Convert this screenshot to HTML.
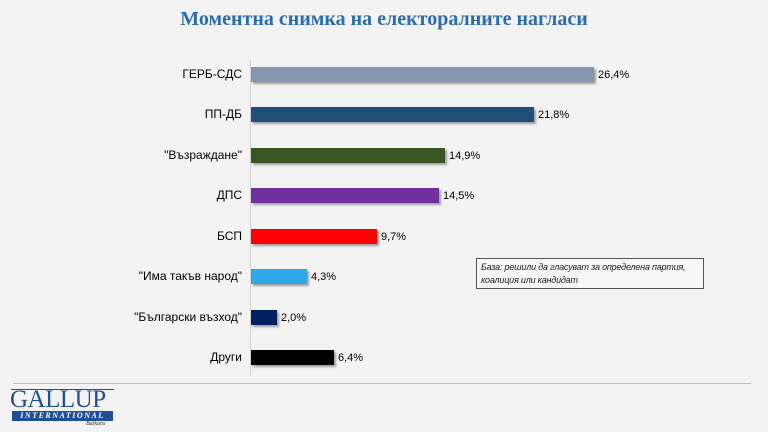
<!DOCTYPE html>
<html><head><meta charset="utf-8"><style>
body{margin:0;width:768px;height:432px;background:#f3f3f3;position:relative;overflow:hidden;font-family:"Liberation Sans","DejaVu Sans",sans-serif}
.t{position:absolute;left:0;width:768px;top:8px;text-align:center;font-family:"Liberation Serif",serif;font-weight:bold;font-size:20px;color:#2a6cb0}
.l{position:absolute;right:526px;font-size:12px;color:#000;line-height:14px}
.b{position:absolute;left:251px;height:15px;box-shadow:2px 2px 2px rgba(0,0,0,0.35)}
.v{position:absolute;font-size:11px;color:#000;line-height:14px}
</style></head><body>
<div class="t">Моментна снимка на електоралните нагласи</div>
<div style="position:absolute;left:250px;top:60px;width:1px;height:316px;background:#d0d0d0"></div>
<div style="position:absolute;left:13px;top:383px;width:738px;height:1px;background:#bdbdbd"></div>

<div class="l" style="top:67px">ГЕРБ-СДС</div><div class="b" style="top:67px;width:343px;background:#8497b0"></div><div class="v" style="top:68px;left:598px">26,4%</div>
<div class="l" style="top:107px">ПП-ДБ</div><div class="b" style="top:107px;width:283px;background:#1f4e79"></div><div class="v" style="top:108px;left:538px">21,8%</div>
<div class="l" style="top:148px">"Възраждане"</div><div class="b" style="top:148px;width:194px;background:#375623"></div><div class="v" style="top:149px;left:449px">14,9%</div>
<div class="l" style="top:188px">ДПС</div><div class="b" style="top:188px;width:188px;background:#7030a0"></div><div class="v" style="top:189px;left:443px">14,5%</div>
<div class="l" style="top:229px">БСП</div><div class="b" style="top:229px;width:126px;background:#ff0000"></div><div class="v" style="top:230px;left:381px">9,7%</div>
<div class="l" style="top:269px">"Има такъв народ"</div><div class="b" style="top:269px;width:56px;background:#2ea8e8"></div><div class="v" style="top:270px;left:311px">4,3%</div>
<div class="l" style="top:310px">"Български възход"</div><div class="b" style="top:310px;width:26px;background:#002060"></div><div class="v" style="top:311px;left:281px">2,0%</div>
<div class="l" style="top:350px">Други</div><div class="b" style="top:350px;width:83px;background:#000"></div><div class="v" style="top:351px;left:338px">6,4%</div>

<div style="position:absolute;left:476px;top:258px;width:228px;height:31px;border:1px solid #555;background:#f7f7f7;font-size:9px;font-style:italic;line-height:13px;padding:2px 4px;box-sizing:border-box;color:#222;letter-spacing:-0.2px;white-space:nowrap">База: решили да гласуват за определена партия,<br>коалиция или кандидат</div>

<div style="position:absolute;left:11px;top:389px;width:103px;height:1px;background:#1f4e9a"></div>
<div style="position:absolute;left:10px;top:388px;font-family:'Liberation Serif',serif;font-size:25px;color:#1f4e9a;letter-spacing:-0.5px;line-height:24px">GALLUP</div>
<div style="position:absolute;left:12px;top:411px;width:101px;height:10px;background:#1f4e9a;color:#fff;font-family:'Liberation Serif',serif;font-style:italic;font-weight:bold;font-size:8px;line-height:10px;text-align:center;letter-spacing:1.5px">INTERNATIONAL</div>
<div style="position:absolute;left:86px;top:421px;font-family:'Liberation Serif',serif;font-style:italic;font-size:6px;color:#333">Balkans</div>
</body></html>
